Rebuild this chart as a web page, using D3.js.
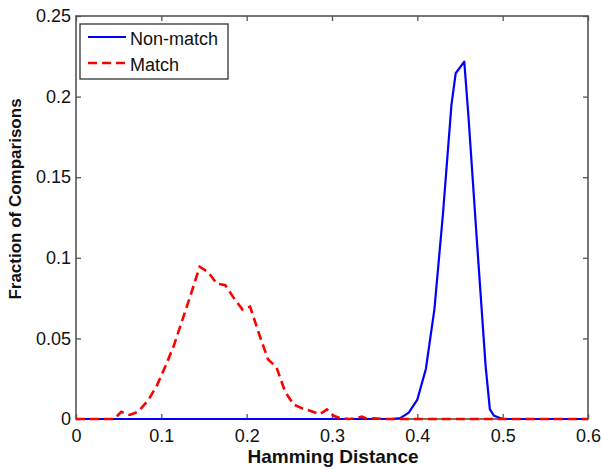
<!DOCTYPE html>
<html>
<head>
<meta charset="utf-8">
<script src="https://cdn.jsdelivr.net/npm/d3@7"></script>
<style>
  body { margin: 0; background: #fff; }
  svg text { font-family: "Liberation Sans", Arial, sans-serif; fill: #111; }
</style>
</head>
<body>
<svg id="chart" width="601" height="473"></svg>
<script>
// hamming distance bins + fractions
var nonmatch_x = [0, 0.1, 0.2, 0.3, 0.37, 0.38, 0.39, 0.40, 0.41, 0.42, 0.43, 0.44, 0.445, 0.455, 0.46, 0.47, 0.48, 0.485, 0.49, 0.50, 0.55, 0.6];
var nonmatch_y = [0, 0, 0, 0, 0, 0.0005, 0.004, 0.012, 0.031, 0.068, 0.127, 0.195, 0.2145, 0.2217, 0.187, 0.109, 0.033, 0.006, 0.002, 0, 0, 0];

var match_x = [0, 0.02, 0.045, 0.053, 0.063, 0.073, 0.085, 0.095, 0.105, 0.115, 0.125, 0.135, 0.145, 0.155, 0.165, 0.175, 0.185, 0.195, 0.204, 0.215, 0.225, 0.235, 0.245, 0.255, 0.265, 0.275, 0.286, 0.294, 0.302, 0.31, 0.32, 0.328, 0.335, 0.342, 0.35, 0.36, 0.4, 0.5, 0.6];
var match_y = [0, 0, 0, 0.0045, 0.0025, 0.0045, 0.012, 0.021, 0.033, 0.046, 0.062, 0.078, 0.0945, 0.091, 0.084, 0.083, 0.075, 0.068, 0.0697, 0.052, 0.037, 0.032, 0.017, 0.009, 0.0066, 0.005, 0.003, 0.006, 0.002, 0.0005, 0, 0.0005, 0.0015, 0, 0.0005, 0, 0, 0, 0];

var x_ticks = [0, 0.1, 0.2, 0.3, 0.4, 0.5, 0.6];
var y_ticks = [0, 0.05, 0.1, 0.15, 0.2, 0.25];
var series_names = ["Non-match", "Match"];

var svg = d3.select("#chart");
var chart = { left: 76, right: 588, top: 16, bottom: 419 };
var axis_col = "#555";

var x = d3.scaleLinear().domain([0, 0.6]).range([chart.left, chart.right]);
var y = d3.scaleLinear().domain([0, 0.25]).range([chart.bottom, chart.top]);

function style_axis(g){
	g.select(".domain").remove();
	g.selectAll(".tick line").attr("stroke", axis_col).attr("stroke-width", 1.3);
	g.selectAll(".tick text").attr("font-size", 18).attr("fill", "#111");
}

// bottom + top
svg.append("g")
	.attr("transform", "translate(0," + chart.bottom + ")")
	.call(d3.axisBottom(x).tickValues(x_ticks).tickSizeInner(-5).tickPadding(6).tickFormat(d3.format("")))
	.call(style_axis)
	.selectAll(".tick text").attr("dy", "0.95em");
svg.append("g")
	.attr("transform", "translate(0," + chart.top + ")")
	.call(d3.axisTop(x).tickValues(x_ticks).tickSizeInner(-5).tickFormat(""))
	.call(style_axis);

// left + right
svg.append("g")
	.attr("transform", "translate(" + chart.left + ",0)")
	.call(d3.axisLeft(y).tickValues(y_ticks).tickSizeInner(-5).tickPadding(5).tickFormat(d3.format("")))
	.call(style_axis);
svg.append("g")
	.attr("transform", "translate(" + chart.right + ",0)")
	.call(d3.axisRight(y).tickValues(y_ticks).tickSizeInner(-5).tickFormat(""))
	.call(style_axis);

svg.append("rect")
	.attr("x", chart.left).attr("y", chart.top)
	.attr("width", chart.right - chart.left).attr("height", chart.bottom - chart.top)
	.attr("fill", "none").attr("stroke", axis_col).attr("stroke-width", 1.6);

var line = d3.line()
	.x(function(d) { return x(d[0]); })
	.y(function(d) { return y(d[1]); });

svg.append("path")
	.datum(d3.zip(nonmatch_x, nonmatch_y))
	.attr("d", line)
	.attr("fill", "none").attr("stroke", "#0000ff").attr("stroke-width", 2.2)
	.attr("stroke-linejoin", "round");

svg.append("path")
	.datum(d3.zip(match_x, match_y))
	.attr("d", line)
	.attr("fill", "none").attr("stroke", "#ff0000").attr("stroke-width", 2.6)
	.attr("stroke-dasharray", "9,5");

// labels
svg.append("text")
	.attr("x", (chart.left + chart.right) / 2 + 1).attr("y", 463)
	.attr("text-anchor", "middle").attr("font-size", 19).attr("font-weight", "bold")
	.text("Hamming Distance");
svg.append("text")
	.attr("transform", "translate(21,199) rotate(-90)")
	.attr("text-anchor", "middle").attr("font-size", 17).attr("font-weight", "bold")
	.text("Fraction of Comparisons");

// legend
var legend = svg.append("g");
legend.append("rect")
	.attr("x", 80).attr("y", 24).attr("width", 148).attr("height", 55)
	.attr("fill", "#fff").attr("stroke", "#333").attr("stroke-width", 1.3);
var colors = ["#0000ff", "#ff0000"];
series_names.forEach(function(name, i){
	var ly = 37 + i * 26;
	legend.append("line")
		.attr("x1", 88).attr("x2", 126).attr("y1", ly).attr("y2", ly)
		.attr("stroke", colors[i]).attr("stroke-width", i ? 2.6 : 2.2)
		.attr("stroke-dasharray", i ? "9,5" : null);
	legend.append("text")
		.attr("x", 130).attr("y", ly + 8)
		.attr("font-size", 18)
		.text(name);
});
</script>
</body>
</html>
